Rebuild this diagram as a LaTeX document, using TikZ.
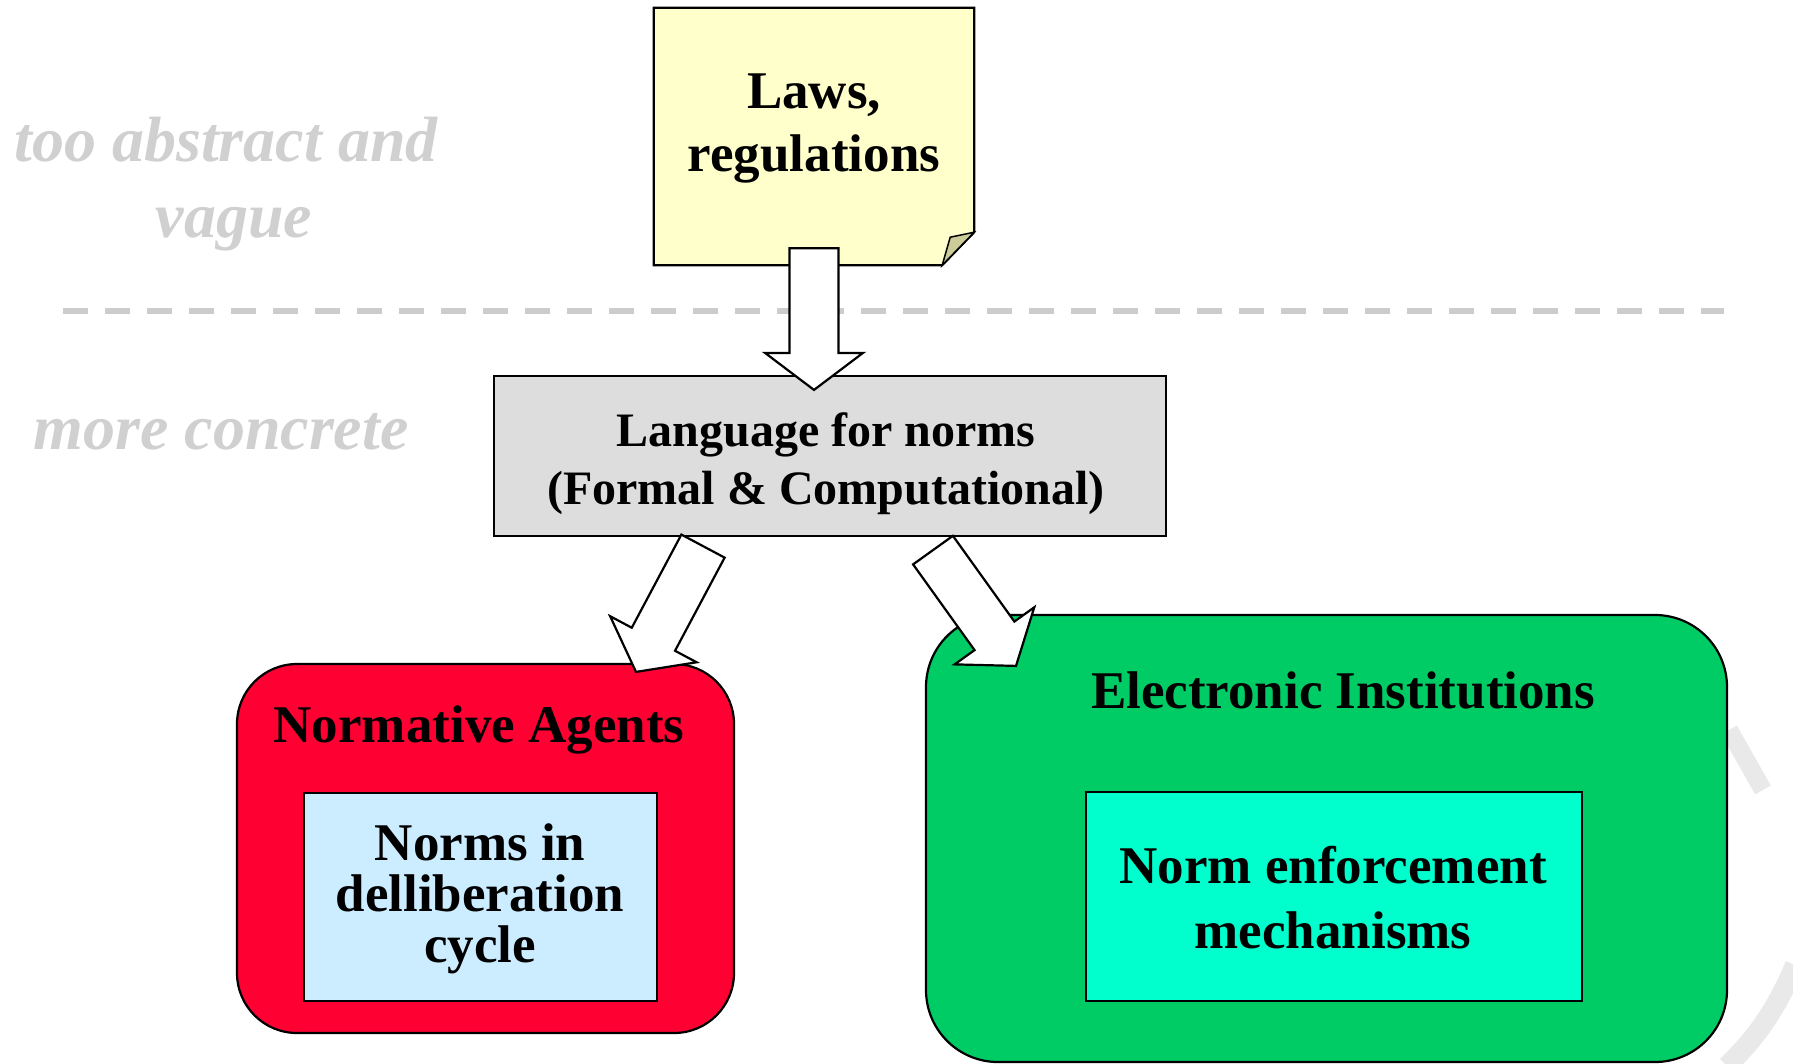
\documentclass[tikz,border=0pt]{standalone}
\usepackage{fontspec}
\setmainfont{Liberation Serif}
\usetikzlibrary{calc}
\definecolor{notefill}{HTML}{FFFFCC}
\definecolor{foldfill}{HTML}{CCCC99}
\definecolor{langfill}{HTML}{DDDDDD}
\definecolor{redfill}{HTML}{FF0033}
\definecolor{bluefill}{HTML}{CCECFF}
\definecolor{greenfill}{HTML}{00CC66}
\definecolor{cyanfill}{HTML}{00FFCC}
\definecolor{labelgrey}{HTML}{D0D0D0}
\definecolor{dashgrey}{HTML}{CCCCCC}
\definecolor{wmgrey}{HTML}{E9E9E9}
\newcommand\blockarr[3]{%
  \coordinate (#3c) at ($(#2)!37pt!(#1)$);
  \draw[barrow] ($(#1)!24.5pt!90:(#2)$) -- ($(#3c)!24.5pt!-90:(#1)$) -- ($(#3c)!49pt!-90:(#1)$) -- (#2)
    -- ($(#3c)!49pt!90:(#1)$) -- ($(#3c)!24.5pt!90:(#1)$) -- ($(#1)!24.5pt!-90:(#2)$) -- cycle;}
\begin{document}
\begin{tikzpicture}[x=1pt,y=-1pt,
  outl/.style={draw=black,line width=2.2pt},
  barrow/.style={draw=black,line width=2.2pt,fill=white,line join=miter},
  boxtext/.style={align=center,font=\bfseries\fontsize{53}{63}\selectfont,inner sep=0pt},
  greylabel/.style={align=center,text=labelgrey,font=\bfseries\itshape\fontsize{64}{76}\selectfont,inner sep=0pt},
  dashline/.style={draw=dashgrey,line width=6pt,dash pattern=on 25pt off 17pt}]
\useasboundingbox (0,0) rectangle (1793,1063);
% faint watermark traces
\draw[wmgrey,line width=18pt] (1729,730) -- (1763,790);
\draw[wmgrey,line width=20pt] (1795,965) .. controls (1777,1008) and (1757,1037) .. (1727,1066);
% separator
\coordinate (dl) at (63,311);
\coordinate (dr) at (1724,311);
\draw[dashline] (dl) -- (dr);
% side labels
\node[greylabel] (abstract) at (226,140) {too abstract and};
\node[greylabel] (vague) at (234,229) {vague};
\node[greylabel] (concrete) at (221,432) {more concrete};
% laws note
\node[minimum width=320pt,minimum height=257pt,inner sep=0pt] (laws) at (814,136.5) {};
\draw[outl,fill=notefill] (laws.north west) -- (laws.north east) -- ($(laws.south east)+(0,-33)$)
  -- ($(laws.south east)+(-32,0)$) -- (laws.south west) -- cycle;
\draw[line width=1.5pt,fill=foldfill] ($(laws.south east)+(-32,0)$) -- ($(laws.south east)+(-24,-28)$) -- ($(laws.south east)+(0,-33)$) -- cycle;
\node[boxtext] (lawstxt) at (814,128) {Laws,\\regulations};
% language box
\node[outl,fill=langfill,minimum width=672pt,minimum height=160pt,inner sep=0pt] (lang) at (830,456) {};
\node[align=center,inner sep=0pt,font=\bfseries\fontsize{48}{58}\selectfont] (langtxt) at (826,464)
  {Language for norms\\(Formal \& Computational)};
% normative agents
\node[outl,fill=redfill,minimum width=497pt,minimum height=369pt,rounded corners=60pt,inner sep=0pt] (na) at (485.5,848.5) {};
\node[boxtext] (natitle) at (479,730) {Normative Agents};
\node[outl,fill=bluefill,minimum width=353pt,minimum height=208pt,inner sep=0pt] (nib) at (480.5,897) {};
\node[align=center,inner sep=0pt,font=\bfseries\fontsize{53}{51}\selectfont] (nibtxt) at (480,899) {Norms in\\delliberation\\cycle};
% electronic institutions
\node[outl,fill=greenfill,minimum width=801pt,minimum height=447pt,rounded corners=72pt,inner sep=0pt] (ei) at (1326.5,838.5) {};
\node[boxtext] (eititle) at (1343,690) {Electronic Institutions};
\node[outl,fill=cyanfill,minimum width=496pt,minimum height=209pt,inner sep=0pt] (eib) at (1334,896.5) {};
\node[align=center,inner sep=0pt,font=\bfseries\fontsize{53}{65}\selectfont] (eibtxt) at (1333,898) {Norm enforcement\\mechanisms};
% block arrows
\coordinate (d0) at ($(laws.south)+(0,-17)$);
\coordinate (d1) at ($(lang.north)+(-16,15)$);
\coordinate (l0) at ($(lang.south)+(-127,9)$);
\coordinate (l1) at ($(na.north)+(150.5,9)$);
\coordinate (r0) at ($(lang.south)+(103,13)$);
\coordinate (r1) at ($(ei.north)+(-310.5,52)$);
\blockarr{d0}{d1}{da}
\blockarr{l0}{l1}{la}
\blockarr{r0}{r1}{ra}
\end{tikzpicture}
\end{document}
